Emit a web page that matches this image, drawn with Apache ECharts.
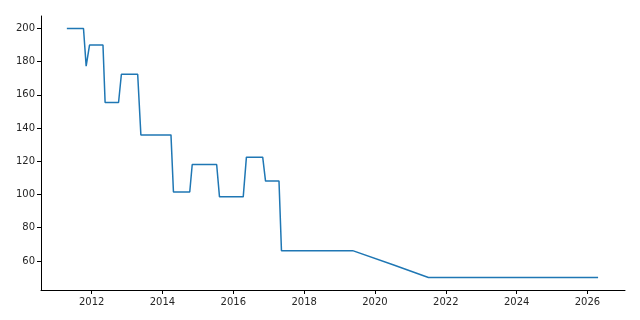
<!DOCTYPE html>
<html>
<head>
<meta charset="utf-8">
<script src="https://cdn.jsdelivr.net/npm/echarts@6/dist/echarts.min.js"></script>
<style>
html,body{margin:0;padding:0;background:#fff;}
#chart{width:640px;height:320px;}
</style>
</head>
<body>
<div id="chart"></div>
<script>
// Time in decimal years
var years = [2011.30, 2011.77, 2011.845, 2011.94, 2012.32, 2012.38, 2012.76, 2012.84,
  2013.30, 2013.39, 2014.24, 2014.31, 2014.77, 2014.84, 2015.53, 2015.61,
  2016.28, 2016.37, 2016.83, 2016.91, 2017.29, 2017.36, 2019.37, 2020.51,
  2021.51, 2026.30];
var values = [200, 200, 177.3, 190.0, 190.0, 155.4, 155.4, 172.4,
  172.4, 135.9, 135.9, 101.5, 101.5, 118.1, 118.1, 98.6,
  98.6, 122.5, 122.5, 108.1, 108.1, 66.2, 66.2, 57.7,
  50, 50];
var xTicks = [2012, 2014, 2016, 2018, 2020, 2022, 2024, 2026];
var yTicks = [60, 80, 100, 120, 140, 160, 180, 200];

var points = years.map(function (y, i) { return [y, values[i]]; });

var chart = echarts.init(document.getElementById('chart'), null, {renderer: 'canvas'});
var axisFont = {fontFamily: 'DejaVu Sans', fontSize: 10, color: '#262626'};
chart.setOption({
  animation: false,
  grid: {left: 41, right: 15, top: 16, bottom: 30, containLabel: false},
  xAxis: {
    type: 'value', min: 2010.57, max: 2027.06,
    axisLine: {show: true, onZero: false, lineStyle: {color: '#000', width: 1}},
    axisTick: {show: true, inside: false, length: 4, customValues: xTicks, lineStyle: {color: '#000', width: 1}},
    axisLabel: Object.assign({show: true, margin: 7, customValues: xTicks, formatter: function (v) { return String(Math.round(v)); }}, axisFont),
    splitLine: {show: false}
  },
  yAxis: {
    type: 'value', min: 42.5, max: 207.5,
    axisLine: {show: true, onZero: false, lineStyle: {color: '#000', width: 1}},
    axisTick: {show: true, inside: false, length: 4, customValues: yTicks, lineStyle: {color: '#000', width: 1}},
    axisLabel: Object.assign({show: true, margin: 6, customValues: yTicks, formatter: function (v) { return String(Math.round(v)); }}, axisFont),
    splitLine: {show: false}
  },
  series: [{
    type: 'line',
    data: points,
    showSymbol: false,
    symbol: 'none',
    lineStyle: {color: '#1f77b4', width: 1.5},
    itemStyle: {color: '#1f77b4'}
  }]
});
</script>
</body>
</html>
